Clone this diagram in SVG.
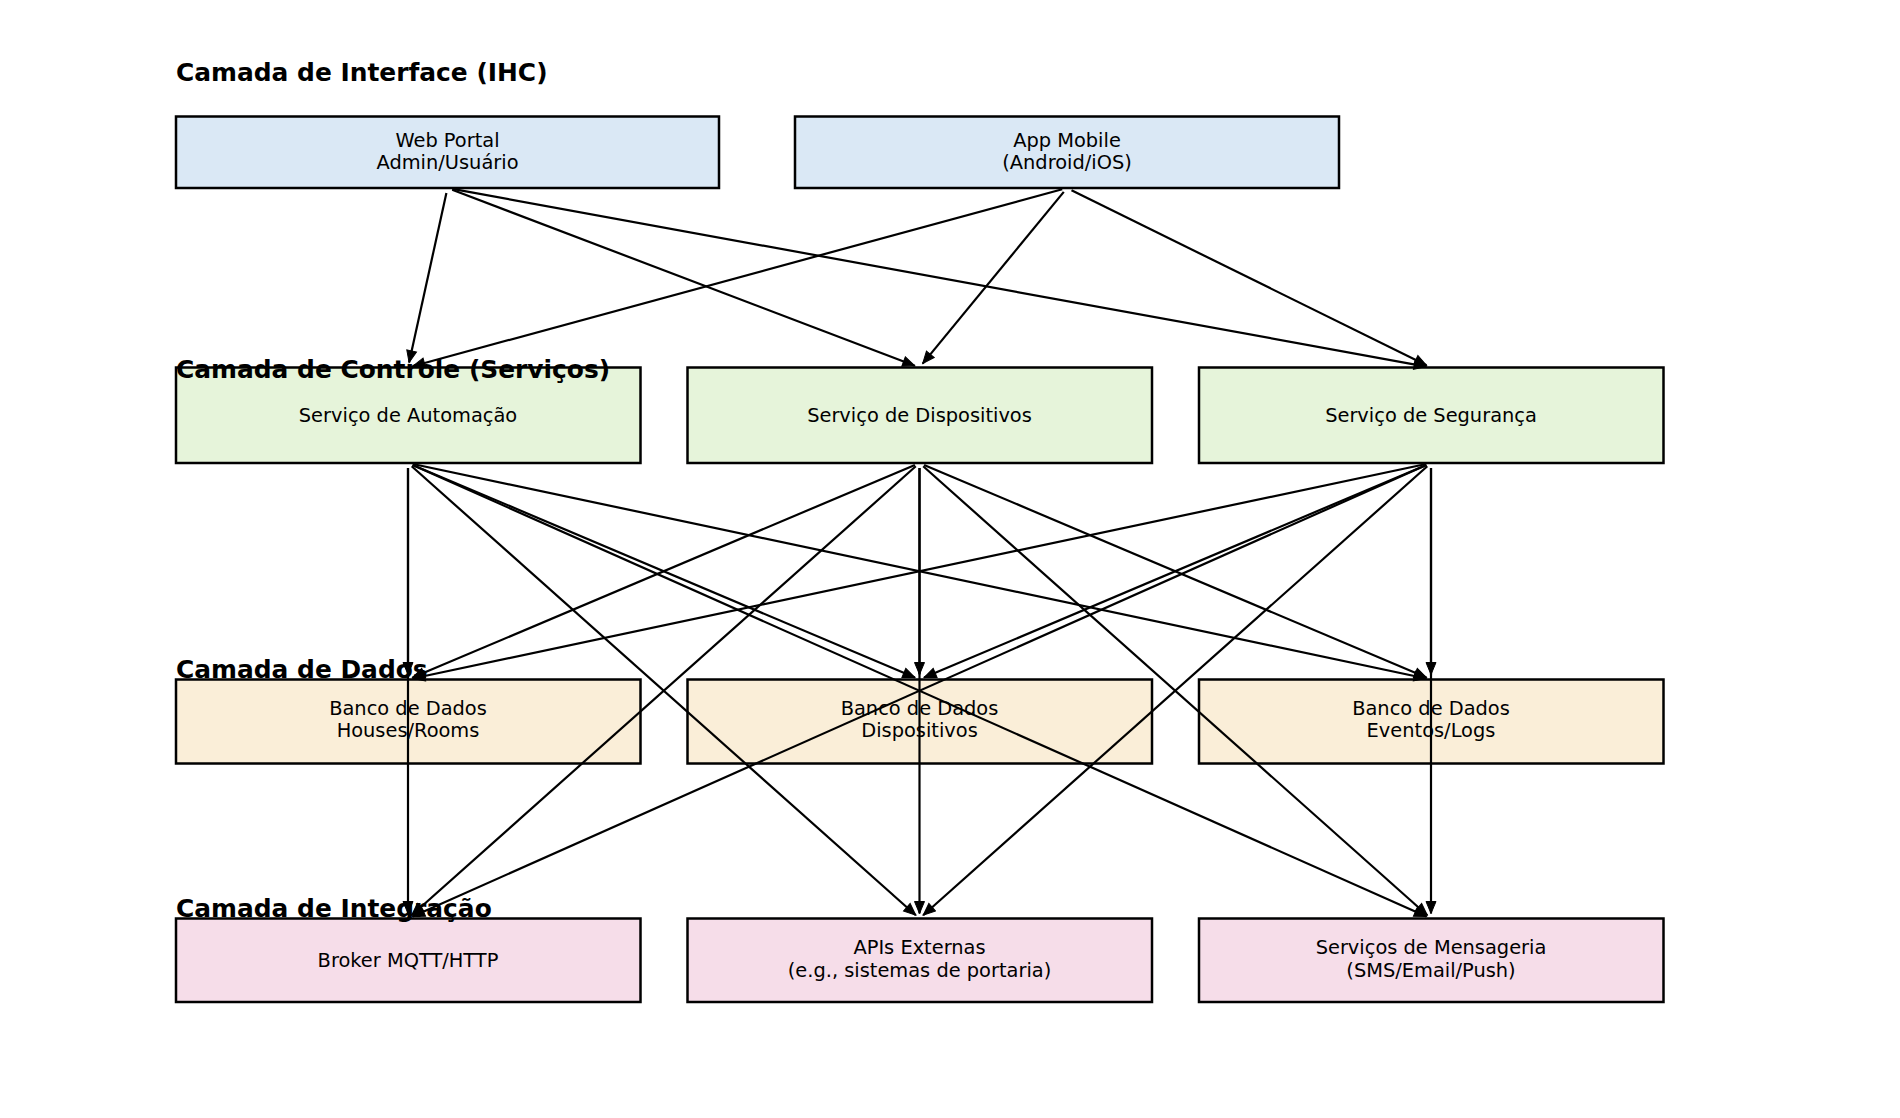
<svg xmlns="http://www.w3.org/2000/svg" width="1900" height="1118" viewBox="0 0 1900 1118">
<style>
.box{stroke:#000;stroke-width:2.5}
.l1{fill:#dae8f5}.l2{fill:#e6f4da}.l3{fill:#faeed8}.l4{fill:#f6dde9}
.t{font-family:"DejaVu Sans","Liberation Sans",sans-serif;font-size:19.4px;fill:#000;text-anchor:middle}
.h{font-family:"DejaVu Sans","Liberation Sans",sans-serif;font-size:24.9px;font-weight:bold;fill:#000}
#connectors line{stroke:#000;stroke-width:2.2;fill:none;marker-end:url(#arr)}
</style>
<defs>
<marker id="arr" markerUnits="userSpaceOnUse" markerWidth="16" markerHeight="14" refX="13" refY="6" orient="auto">
<path d="M1,1 L13,6 L1,11 z" fill="#000" stroke="#000" stroke-width="1"/>
</marker>
</defs>
<rect width="1900" height="1118" fill="#fff"/>
<g id="node-web-portal"><rect class="box l1" x="176" y="116.5" width="543" height="71.5"/><text class="t" x="447.5" y="146.5">Web Portal</text><text class="t" x="447.5" y="169">Admin/Usuário</text></g>
<g id="node-app-mobile"><rect class="box l1" x="795" y="116.5" width="544" height="71.5"/><text class="t" x="1067" y="146.5">App Mobile</text><text class="t" x="1067" y="169">(Android/iOS)</text></g>
<g id="node-automacao"><rect class="box l2" x="176" y="367.5" width="464.5" height="95.5"/><text class="t" x="408" y="421.5">Serviço de Automação</text></g>
<g id="node-servico-dispositivos"><rect class="box l2" x="687.5" y="367.5" width="464.5" height="95.5"/><text class="t" x="919.5" y="421.5">Serviço de Dispositivos</text></g>
<g id="node-seguranca"><rect class="box l2" x="1199" y="367.5" width="464.5" height="95.5"/><text class="t" x="1431" y="421.5">Serviço de Segurança</text></g>
<g id="node-db-houses"><rect class="box l3" x="176" y="679.5" width="464.5" height="84"/><text class="t" x="408" y="714.5">Banco de Dados</text><text class="t" x="408" y="737">Houses/Rooms</text></g>
<g id="node-db-dispositivos"><rect class="box l3" x="687.5" y="679.5" width="464.5" height="84"/><text class="t" x="919.5" y="714.5">Banco de Dados</text><text class="t" x="919.5" y="737">Dispositivos</text></g>
<g id="node-db-eventos"><rect class="box l3" x="1199" y="679.5" width="464.5" height="84"/><text class="t" x="1431" y="714.5">Banco de Dados</text><text class="t" x="1431" y="737">Eventos/Logs</text></g>
<g id="node-broker"><rect class="box l4" x="176" y="918.5" width="464.5" height="83.5"/><text class="t" x="408" y="967">Broker MQTT/HTTP</text></g>
<g id="node-apis"><rect class="box l4" x="687.5" y="918.5" width="464.5" height="83.5"/><text class="t" x="919.5" y="954">APIs Externas</text><text class="t" x="919.5" y="976.5">(e.g., sistemas de portaria)</text></g>
<g id="node-mensageria"><rect class="box l4" x="1199" y="918.5" width="464.5" height="83.5"/><text class="t" x="1431" y="954">Serviços de Mensageria</text><text class="t" x="1431" y="976.5">(SMS/Email/Push)</text></g>
<g id="layer-titles">
<text class="h" x="176" y="81">Camada de Interface (IHC)</text>
<text class="h" x="176" y="378">Camada de Controle (Serviços)</text>
<text class="h" x="176" y="678">Camada de Dados</text>
<text class="h" x="176" y="917">Camada de Integração</text>
</g>
<g id="connectors">
<line x1="446.4" y1="192.9" x2="409.1" y2="362.6"/>
<line x1="452.2" y1="189.8" x2="914.8" y2="365.7"/>
<line x1="452.4" y1="188.9" x2="1426.1" y2="366.6"/>
<line x1="1062.2" y1="189.3" x2="412.8" y2="366.2"/>
<line x1="1063.8" y1="191.9" x2="922.7" y2="363.6"/>
<line x1="1071.5" y1="190.2" x2="1426.5" y2="365.3"/>
<line x1="408" y1="468" x2="408" y2="674.5"/>
<line x1="412.6" y1="464.9" x2="914.9" y2="677.6"/>
<line x1="412.9" y1="464" x2="1426.1" y2="678.5"/>
<line x1="408" y1="468" x2="408" y2="913.5"/>
<line x1="411.7" y1="466.3" x2="915.8" y2="915.2"/>
<line x1="412.6" y1="465" x2="1426.4" y2="916.5"/>
<line x1="914.9" y1="464.9" x2="412.6" y2="677.6"/>
<line x1="919.5" y1="468" x2="919.5" y2="674.5"/>
<line x1="924.1" y1="464.9" x2="1426.4" y2="677.6"/>
<line x1="915.8" y1="466.3" x2="411.7" y2="915.2"/>
<line x1="919.5" y1="468" x2="919.5" y2="913.5"/>
<line x1="923.2" y1="466.3" x2="1427.3" y2="915.2"/>
<line x1="1426.1" y1="464" x2="412.9" y2="678.5"/>
<line x1="1426.4" y1="464.9" x2="924.1" y2="677.6"/>
<line x1="1431" y1="468" x2="1431" y2="674.5"/>
<line x1="1426.4" y1="465" x2="412.6" y2="916.5"/>
<line x1="1427.3" y1="466.3" x2="923.2" y2="915.2"/>
<line x1="1431" y1="468" x2="1431" y2="913.5"/>
</g>
</svg>
